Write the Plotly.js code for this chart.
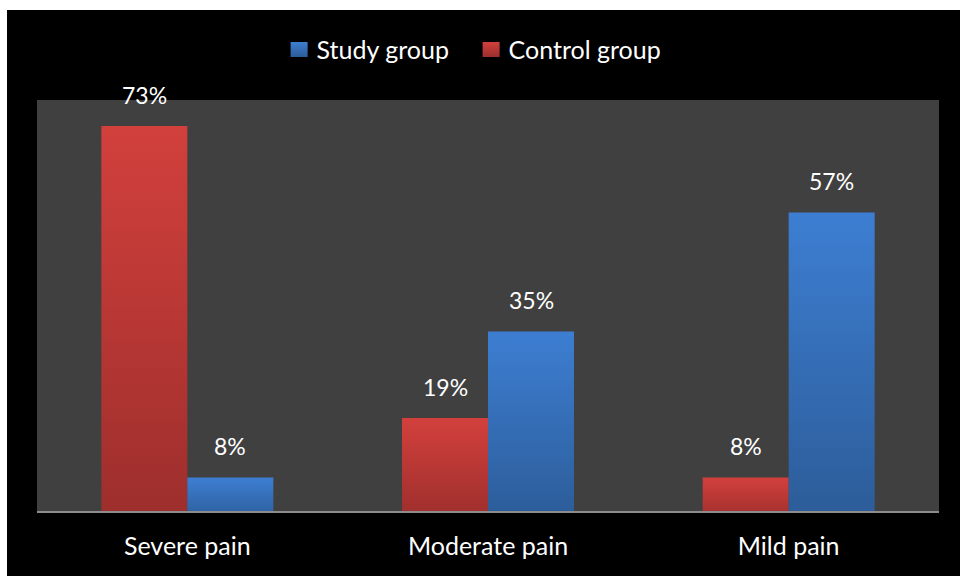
<!DOCTYPE html>
<html>
<head>
<meta charset="utf-8">
<script src="https://cdn.plot.ly/plotly-3.0.1.min.js"></script>
<style>
  html, body { margin: 0; padding: 0; background: #ffffff; }
  #chart { position: absolute; left: 7px; top: 10px; width: 953px; height: 566px; }
</style>
</head>
<body>
<div id="chart"></div>
<script>
// Pain severity by group (percent of patients)
const categories = ['Severe pain', 'Moderate pain', 'Mild pain'];
const controlGroup = [73, 19, 8];
const studyGroup = [8, 35, 57];
const seriesNames = ['Control group', 'Study group'];

const FONT = 'Lato, "Open Sans", sans-serif';
const BARGAP = 0.428;
const groupSeries = [controlGroup, studyGroup];

const traces = groupSeries.map((vals, k) => ({
  type: 'bar',
  name: seriesNames[k],
  x: categories,
  y: vals,
  marker: { color: k === 0 ? '#c23a37' : '#3670bd', line: { width: 0 } },
  hoverinfo: 'skip'
}));

// Value labels sit above each bar, offset to the bar's slot in the group
const slot = (1 - BARGAP) / 4;
const annotations = [];
groupSeries.forEach((vals, k) => {
  vals.forEach((v, i) => {
    annotations.push({
      xref: 'x', yref: 'y',
      x: i + (k === 0 ? -slot : slot),
      y: v,
      text: v + '%',
      showarrow: false,
      yanchor: 'bottom',
      yshift: 15,
      font: { family: FONT, size: 23, color: '#ffffff' }
    });
  });
});

const layout = {
  width: 953,
  height: 566,
  paper_bgcolor: '#000000',
  plot_bgcolor: '#404040',
  margin: { l: 30, r: 21, t: 90, b: 65 },
  barmode: 'group',
  bargap: BARGAP,
  bargroupgap: 0,
  font: { family: FONT, size: 24, color: '#ffffff' },
  showlegend: true,
  legend: {
    orientation: 'h',
    traceorder: 'reversed',
    entrywidth: 147,
    x: 0.4785, xanchor: 'center',
    y: 1.122, yanchor: 'middle',
    font: { family: FONT, size: 25, color: '#ffffff' },
    bgcolor: 'rgba(0,0,0,0)'
  },
  xaxis: {
    type: 'category',
    showline: true,
    linecolor: '#8c8c8c',
    linewidth: 2,
    ticks: '',
    ticklabelstandoff: 12,
    showgrid: false,
    zeroline: false,
    tickfont: { family: FONT, size: 25, color: '#ffffff' },
    fixedrange: true
  },
  yaxis: {
    range: [1.8, 77.8],
    showticklabels: false,
    showgrid: false,
    zeroline: false,
    showline: false,
    ticks: '',
    fixedrange: true
  },
  annotations: annotations
};

Plotly.newPlot('chart', traces, layout, { displayModeBar: false, staticPlot: true }).then(gd => {
  // Vertical shading on the bars and legend swatches
  const svg = gd.querySelector('svg.main-svg');
  const ns = 'http://www.w3.org/2000/svg';
  let defs = svg.querySelector('defs');
  if (!defs) { defs = document.createElementNS(ns, 'defs'); svg.insertBefore(defs, svg.firstChild); }
  const grads = [
    { id: 'shadeControl', top: '#d2403c', bottom: '#9c2e2c' },
    { id: 'shadeStudy', top: '#3d7ed2', bottom: '#2c5c98' }
  ];
  grads.forEach(g => {
    const lg = document.createElementNS(ns, 'linearGradient');
    lg.setAttribute('id', g.id);
    lg.setAttribute('x1', '0'); lg.setAttribute('y1', '0');
    lg.setAttribute('x2', '0'); lg.setAttribute('y2', '1');
    [[0, g.top], [1, g.bottom]].forEach(([o, c]) => {
      const st = document.createElementNS(ns, 'stop');
      st.setAttribute('offset', o);
      st.setAttribute('stop-color', c);
      lg.appendChild(st);
    });
    defs.appendChild(lg);
  });
  gd.querySelectorAll('.barlayer .trace').forEach((tr, k) => {
    tr.querySelectorAll('path').forEach(p => { p.style.fill = 'url(#' + grads[k].id + ')'; });
  });
  // Larger legend swatches, a little closer to their text (keeps Plotly's own placement transform)
  gd.querySelectorAll('.legend .traces').forEach(tr => {
    const name = tr.querySelector('.legendtext').textContent;
    const k = seriesNames.indexOf(name);
    tr.querySelectorAll('.legendpoints path').forEach(p => {
      p.setAttribute('d', 'M11,7.5H-6V-7.5H11Z');
      p.style.fill = 'url(#' + grads[k].id + ')';
      p.style.strokeWidth = '0';
    });
  });
});
</script>
</body>
</html>
